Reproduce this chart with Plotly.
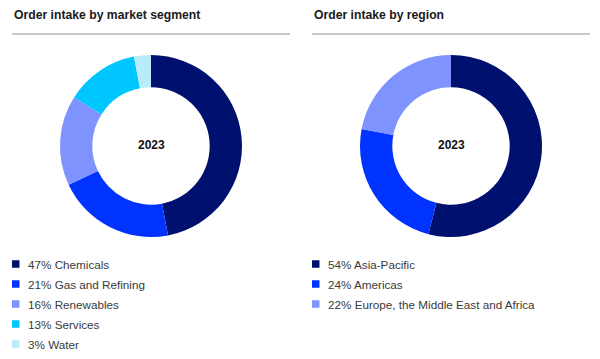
import plotly.graph_objects as go

W, H = 600, 359

seg_labels = ["Chemicals", "Gas and Refining", "Renewables", "Services", "Water"]
seg_values = [47, 21, 16, 13, 3]
seg_colors = ["#00106e", "#0033ff", "#7f93ff", "#00c6ff", "#b8ecfb"]

reg_labels = ["Asia-Pacific", "Americas", "Europe, the Middle East and Africa"]
reg_values = [54, 24, 22]
reg_colors = ["#00106e", "#0033ff", "#7f93ff"]

titles = ["Order intake by market segment", "Order intake by region"]
center_text = "2023"

FONT = "Liberation Sans, Arial, sans-serif"

def px_x(x):
    return x / W

def px_y(y):
    return 1 - y / H

fig = go.Figure()

panels = [
    (seg_labels, seg_values, seg_colors, 151, 12),
    (reg_labels, reg_values, reg_colors, 451, 312),
]
cy, r = 146, 91

shapes = []
annotations = []
for i, (labels, values, colors, cx, lx) in enumerate(panels):
    fig.add_trace(go.Pie(
        labels=labels, values=values, hole=0.645, sort=False,
        direction="clockwise", rotation=0,
        marker=dict(colors=colors, line=dict(width=0)),
        textinfo="none", hoverinfo="label+percent", showlegend=False,
        domain=dict(x=[px_x(cx - r), px_x(cx + r)], y=[px_y(cy + r), px_y(cy - r)]),
    ))
    annotations.append(dict(x=px_x(cx), y=px_y(145), xref="paper", yref="paper",
                            xanchor="center", yanchor="middle",
                            text=f"<b>{center_text}</b>", showarrow=False,
                            font=dict(family=FONT, size=12, color="#111111")))
    annotations.append(dict(x=px_x(lx), y=px_y(15), xref="paper", yref="paper",
                            xanchor="left", yanchor="middle",
                            text=f"<b>{titles[i]}</b>", showarrow=False,
                            font=dict(family=FONT, size=12.2, color="#1a1a1a")))
    shapes.append(dict(type="line", xref="paper", yref="paper",
                       x0=px_x(lx), x1=px_x(lx + 278), y0=px_y(34), y1=px_y(34),
                       line=dict(color="#b3b8b8", width=1.6)))
    for k, (lab, val, col) in enumerate(zip(labels, values, colors)):
        yy = 264 + 20 * k
        shapes.append(dict(type="rect", xref="paper", yref="paper",
                           x0=px_x(lx), x1=px_x(lx + 7.5),
                           y0=px_y(yy - 3.75), y1=px_y(yy + 3.75),
                           fillcolor=col, line=dict(width=0)))
        annotations.append(dict(x=px_x(lx + 14), y=px_y(yy), xref="paper", yref="paper",
                                xanchor="left", yanchor="middle",
                                text=f"{val}% {lab}", showarrow=False,
                                font=dict(family=FONT, size=11.7, color="#3a3a3a")))

fig.update_layout(
    width=W, height=H, margin=dict(l=0, r=0, t=0, b=0),
    paper_bgcolor="white", plot_bgcolor="white",
    shapes=shapes, annotations=annotations,
)

fig.write_html("out.html", config={"displayModeBar": False},
               post_script="document.body.style.margin='0px';")
